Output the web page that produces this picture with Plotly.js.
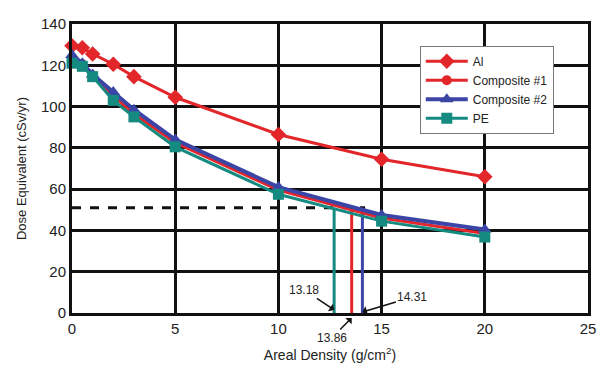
<!DOCTYPE html>
<html>
<head>
<meta charset="utf-8">
<script src="https://cdn.plot.ly/plotly-3.0.1.min.js"></script>
<style>html,body{margin:0;padding:0;background:#fff;}#chart{width:600px;height:376px;}</style>
</head>
<body>
<div id="chart"></div>
<script>
// Data
const arealDensity = [0, 0.5, 1, 2, 3, 5, 10, 15, 20];
const doseAl = [129.5, 128.5, 125.5, 120.5, 114.5, 104.5, 86.5, 74.5, 66];
const doseComposite1 = [123, 120.5, 115, 105, 96.5, 82.5, 59.5, 46, 38.5];
const doseComposite2 = [125, 121, 115.5, 107, 98.5, 84, 61, 47.5, 40.5];
const dosePE = [121, 119.5, 114.5, 103, 95, 80.5, 57.5, 44.5, 36.8];

const doseLimit = 51;
const limitEnd = 14.2;
const crossPE = 12.7, crossC1 = 13.55, crossC2 = 14.07;
const crossLabels = ["13.18", "13.86", "14.31"];

const xTicks = [0, 5, 10, 15, 20, 25];
const yTicks = [0, 20, 40, 60, 80, 100, 120, 140];

const cRed = "#e2262a", cBlue = "#3a45a6", cTeal = "#158a80";
const font = "Liberation Sans, Arial, Helvetica, sans-serif";

const traces = [
  {x: [0, limitEnd], y: [doseLimit, doseLimit], mode: "lines", line: {color: "#111", width: 3, dash: "dash"}, showlegend: false, hoverinfo: "skip"},
  {x: [crossPE, crossPE], y: [0, doseLimit], mode: "lines", line: {color: cTeal, width: 3}, showlegend: false},
  {x: [crossC1, crossC1], y: [0, doseLimit], mode: "lines", line: {color: cRed, width: 3}, showlegend: false},
  {x: [crossC2, crossC2], y: [0, doseLimit], mode: "lines", line: {color: cBlue, width: 3}, showlegend: false},
  {name: "Al", x: arealDensity, y: doseAl, mode: "lines+markers", line: {color: cRed, width: 3}, marker: {symbol: "diamond", size: 12, color: cRed}, cliponaxis: false},
  {name: "Composite #1", x: arealDensity, y: doseComposite1, mode: "lines+markers", line: {color: cRed, width: 3}, marker: {symbol: "circle", size: 10, color: cRed}, cliponaxis: false},
  {name: "Composite #2", x: arealDensity, y: doseComposite2, mode: "lines+markers", line: {color: cBlue, width: 4}, marker: {symbol: "triangle-up", size: 12, color: cBlue}, cliponaxis: false},
  {name: "PE", x: arealDensity, y: dosePE, mode: "lines+markers", line: {color: cTeal, width: 3}, marker: {symbol: "square", size: 11, color: cTeal}, cliponaxis: false}
];

const axisCommon = {
  showline: true, linecolor: "#111", linewidth: 3, mirror: true,
  showgrid: true, gridcolor: "#111", gridwidth: 3,
  zeroline: false, ticks: "", tickfont: {family: font, size: 15, color: "#222"}
};

const annFont = {family: font, size: 12, color: "#222"};

const layout = {
  width: 600, height: 376,
  margin: {l: 72, r: 12, t: 24, b: 63},
  paper_bgcolor: "#fff", plot_bgcolor: "#fff",
  font: {family: font, color: "#222"},
  xaxis: Object.assign({}, axisCommon, {
    range: [0, 25], tickvals: xTicks, ticktext: xTicks.map(String),
    title: {text: "Areal Density (g/cm<sup>2</sup>)", font: {family: font, size: 14, color: "#222"}, standoff: 15}
  }),
  yaxis: Object.assign({}, axisCommon, {
    range: [0, 140], tickvals: yTicks, ticktext: yTicks.map(String),
    title: {text: "Dose Equivalent (cSv/yr)", font: {family: font, size: 13, color: "#222"}, standoff: 12}
  }),
  legend: {
    x: 0.674, y: 0.925, xanchor: "left", yanchor: "top",
    bgcolor: "#fff", bordercolor: "#777", borderwidth: 1,
    font: {family: font, size: 12, color: "#222"}, tracegroupgap: 0, itemwidth: 42
  },
  annotations: [
    {x: crossPE, y: 1.5, ax: -30, ay: -20, text: crossLabels[0], showarrow: true, arrowhead: 1, arrowsize: 1, arrowwidth: 1.5, arrowcolor: "#111", font: annFont},
    {x: crossC1, xref: "x", y: -0.017, yref: "paper", ax: -20, ay: 20, text: crossLabels[1], showarrow: true, arrowhead: 1, arrowsize: 1, arrowwidth: 1.5, arrowcolor: "#111", font: annFont},
    {x: crossC2, y: 0.5, ax: 50, ay: -15, text: crossLabels[2], showarrow: true, arrowhead: 1, arrowsize: 1, arrowwidth: 1.5, arrowcolor: "#111", font: annFont}
  ],
  showlegend: true
};

Plotly.newPlot("chart", traces, layout, {displayModeBar: false, staticPlot: true});
</script>
</body>
</html>
